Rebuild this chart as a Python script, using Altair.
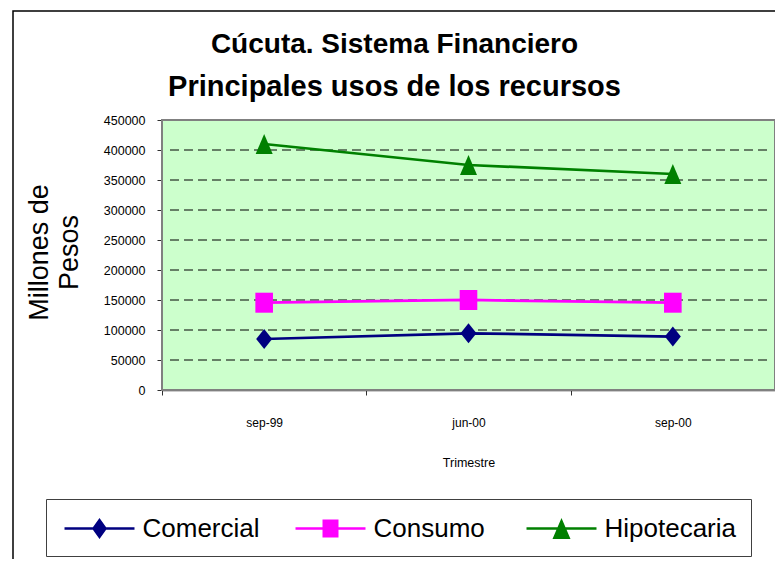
import altair as alt
import pandas as pd

trimestres = ["sep-99", "jun-00", "sep-00"]
series = ["Comercial", "Consumo", "Hipotecaria"]
comercial = [85000, 94500, 89000]
consumo = [145500, 150000, 145500]
hipotecaria = [410000, 375000, 360000]
y_ticks = [0, 50000, 100000, 150000, 200000, 250000, 300000, 350000, 400000, 450000]
colores = ["#000080", "#FF00FF", "#008000"]
titulo = ["Cúcuta. Sistema Financiero", "Principales usos de los recursos"]
titulo_y = ["Millones de", "Pesos"]

FONT = "Liberation Sans"
W, H = 613, 270

# marker shapes for the plot
chart_shapes = [
    "M0,-1L0.8,0L0,1L-0.8,0Z",
    "M-0.88,-1H0.88V1H-0.88Z",
    "M0,-1L0.85,1L-0.85,1Z",
]
# legend symbols: line + marker, drawn to the right of the 30px symbol box (unit = 15px)
legend_shapes = [
    "M-0.733,-0.08H3.933V0.08H-0.733Z M1.6,-0.7L2.1,0L1.6,0.7L1.1,0Z",
    "M-0.733,-0.08H3.933V0.08H-0.733Z M1.067,-0.6H2.133V0.6H1.067Z",
    "M-0.733,-0.08H3.933V0.08H-0.733Z M1.6,-0.7L2.2,0.7L1.0,0.7Z",
]

rows = []
for s, vals in zip(series, [comercial, consumo, hipotecaria]):
    for t, v in zip(trimestres, vals):
        rows.append({"Trimestre": t, "serie": s, "leyenda": s, "valor": v})
df = pd.DataFrame(rows)
grid_df = pd.DataFrame({"valor": y_ticks[1:-1]})

x_enc = alt.X(
    "Trimestre:N",
    sort=trimestres,
    scale=alt.Scale(type="band", paddingInner=0, paddingOuter=0),
    bandPosition=0.5,
    axis=alt.Axis(
        tickBand="extent",
        labelAngle=0,
        labelFont=FONT,
        labelFontSize=12,
        labelColor="black",
        labelPadding=22,
        tickSize=5,
        tickColor="#303030",
        domainColor="#303030",
        domainWidth=1.5,
        grid=False,
        title="Trimestre",
        titleFont=FONT,
        titleFontSize=12.5,
        titleFontWeight="normal",
        titleColor="black",
        titleY=72,
        titleBaseline="middle",
    ),
)

y_scale = alt.Scale(domain=[0, 450000], nice=False)

y_enc = alt.Y(
    "valor:Q",
    scale=y_scale,
    axis=alt.Axis(
        values=y_ticks,
        format="d",
        labelFont=FONT,
        labelFontSize=12.5,
        labelColor="black",
        labelPadding=12,
        tickSize=5,
        tickColor="#303030",
        domainColor="#303030",
        domainWidth=1.5,
        grid=False,
        title=titulo_y,
        titleFont=FONT,
        titleFontSize=27,
        titleFontWeight="normal",
        titleColor="black",
        titleAngle=270,
        titleAlign="center",
        titleBaseline="middle",
        titleLineHeight=30,
        titleX=-123,
        titleY=132,
    ),
)

base = alt.Chart(df)

background = alt.Chart(alt.Data(values=[{}])).mark_rect(
    fill="#CCFFCC", stroke="#808080", strokeWidth=2
).encode(x=alt.value(0), x2=alt.value(W), y=alt.value(0), y2=alt.value(H))

gridlines = alt.Chart(grid_df).mark_rule(
    color="black", strokeWidth=1, strokeDash=[9, 5]
).encode(
    y=y_enc,
    x=alt.value(8),
    x2=alt.value(W - 8),
)

lines = base.mark_line(strokeWidth=2.75).encode(
    x=x_enc,
    y=y_enc,
    color=alt.Color("serie:N", scale=alt.Scale(domain=series, range=colores), legend=None),
    detail="serie:N",
)

points = base.mark_point(filled=True, opacity=1, size=400).encode(
    x=x_enc,
    y=y_enc,
    color=alt.Color("serie:N", scale=alt.Scale(domain=series, range=colores), legend=None),
    shape=alt.Shape("serie:N", scale=alt.Scale(domain=series, range=chart_shapes), legend=None),
)

leg = alt.Legend(
    orient="none",
    legendX=-116,
    legendY=379,
    direction="horizontal",
    columns=3,
    gridAlign="all",
    columnPadding=17,
    labelOffset=52,
    padding=14.5,
    strokeColor="#404040",
    fillColor="white",
    symbolStrokeWidth=0,
    symbolOpacity=1,
    symbolSize=900,
    labelFont=FONT,
    labelFontSize=26,
    labelColor="black",
    labelLimit=300,
    title=None,
)

legend_layer = base.mark_point(filled=True, opacity=0, size=900).encode(
    x=x_enc,
    y=y_enc,
    color=alt.Color("leyenda:N", scale=alt.Scale(domain=series, range=colores), legend=leg),
    shape=alt.Shape("leyenda:N", scale=alt.Scale(domain=series, range=legend_shapes), legend=leg),
)

frame = alt.Chart(alt.Data(values=[{}])).mark_rect(
    fillOpacity=0, stroke="black", strokeWidth=1.5, clip=False
).encode(
    x=alt.value(-149), x2=alt.value(640), y=alt.value(-109), y2=alt.value(470)
)

title1 = alt.Chart(alt.Data(values=[{}])).mark_text(
    font=FONT, fontSize=28, fontWeight="bold", color="black", align="center", baseline="alphabetic"
).encode(x=alt.value(232.5), y=alt.value(-67), text=alt.value(titulo[0]))

title2 = alt.Chart(alt.Data(values=[{}])).mark_text(
    font=FONT, fontSize=29, fontWeight="bold", color="black", align="center", baseline="alphabetic"
).encode(x=alt.value(232.5), y=alt.value(-24), text=alt.value(titulo[1]))

chart = (
    alt.layer(frame, background, gridlines, title1, title2, lines, points, legend_layer)
    .resolve_scale(color="independent", shape="independent")
    .properties(
        width=W,
        height=H,
        autosize=alt.AutoSizeParams(type="none"),
        padding={"left": 154, "top": 112, "right": 0, "bottom": 169},
    )
    .configure_view(strokeWidth=0)
    .configure(background="white")
)

chart.save("out.html", embed_options={"renderer": "svg", "actions": False})
